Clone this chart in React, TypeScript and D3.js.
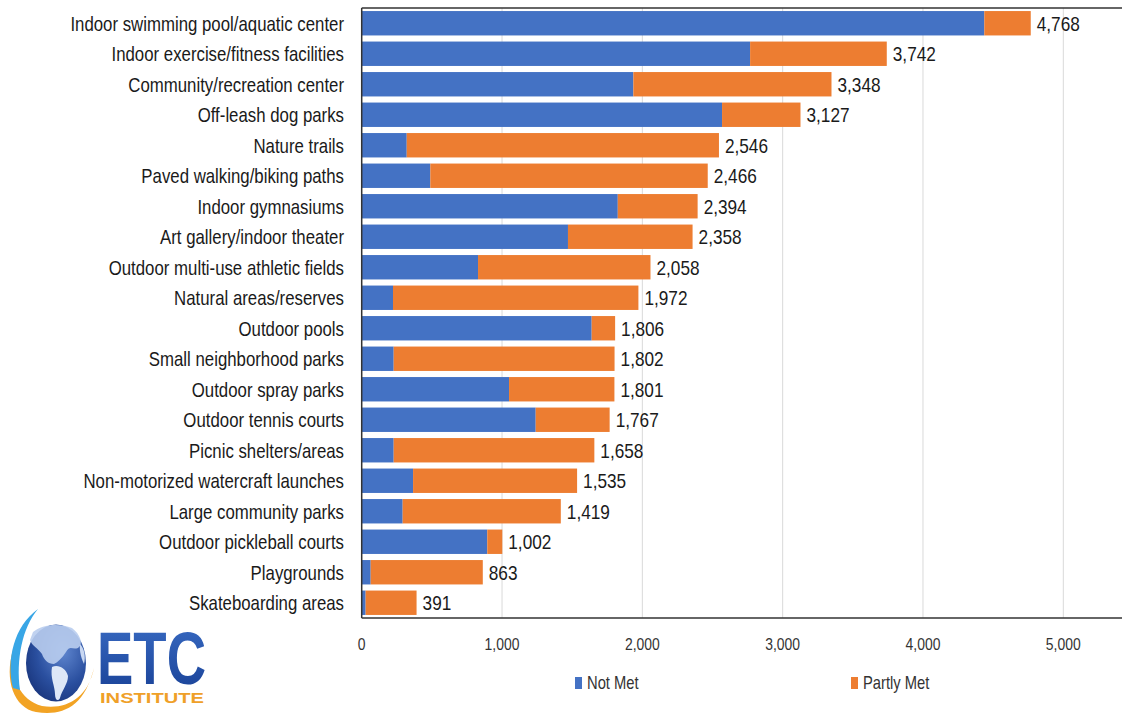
import React from "react";
import * as d3 from "d3";

const categories = [
  "Indoor swimming pool/aquatic center",
  "Indoor exercise/fitness facilities",
  "Community/recreation center",
  "Off-leash dog parks",
  "Nature trails",
  "Paved walking/biking paths",
  "Indoor gymnasiums",
  "Art gallery/indoor theater",
  "Outdoor multi-use athletic fields",
  "Natural areas/reserves",
  "Outdoor pools",
  "Small neighborhood parks",
  "Outdoor spray parks",
  "Outdoor tennis courts",
  "Picnic shelters/areas",
  "Non-motorized watercraft launches",
  "Large community parks",
  "Outdoor pickleball courts",
  "Playgrounds",
  "Skateboarding areas",
];
const notMet = [4437, 2768, 1936, 2568, 321, 489, 1825, 1470, 829, 223, 1639, 228, 1050, 1240, 228, 366, 292, 895, 64, 28];
const partlyMet = [331, 974, 1412, 559, 2225, 1977, 569, 888, 1229, 1749, 167, 1574, 751, 527, 1430, 1169, 1127, 107, 799, 363];
const xTicks = [0, 1000, 2000, 3000, 4000, 5000];
const seriesNames = ["Not Met", "Partly Met"];
const seriesColors = ["#4472C4", "#ED7D31"];

const FONT = "'Liberation Sans', Arial, sans-serif";
const SX = 0.82; // horizontal condensing to mimic a narrow face

function NText(props: { x: number; y: number; anchor?: string; size: number; fill?: string; children: any }) {
  const { x, y, anchor = "start", size, fill = "#1a1a1a", children } = props;
  return (
    <g transform={`translate(${x},${y}) scale(${SX},1)`}>
      <text x={0} y={0} dy="0.36em" textAnchor={anchor as any} fontFamily={FONT} fontSize={size} fill={fill}>
        {children}
      </text>
    </g>
  );
}

export default function App() {
  const W = 1122, H = 719;
  const plotLeft = 361.7, plotTop = 8, plotBottom = 618;
  const x = d3.scaleLinear().domain([0, 5000]).range([plotLeft, 1063.3]);
  const y = d3.scaleBand<string>().domain(categories).range([plotTop, plotBottom]).paddingInner(0.2).paddingOuter(0.1);
  const rows = categories.map((c, i) => ({ cat: c, "Not Met": notMet[i], "Partly Met": partlyMet[i] }));
  const stacked = d3.stack<any>().keys(seriesNames)(rows);
  const fmt = d3.format(",");

  return (
    <svg width={W} height={H} style={{ position: "absolute", left: 0, top: 0, background: "#fff" }}>
      <defs>
        <radialGradient id="globe" cx="0.62" cy="0.35" r="0.8">
          <stop offset="0" stopColor="#5f86cf" />
          <stop offset="0.55" stopColor="#2a4f9f" />
          <stop offset="1" stopColor="#152f74" />
        </radialGradient>
        <linearGradient id="etc" x1="0" y1="0" x2="0" y2="1">
          <stop offset="0" stopColor="#3a6cc4" />
          <stop offset="1" stopColor="#173f94" />
        </linearGradient>
      </defs>
      {/* gridlines */}
      {xTicks.filter((t) => t > 0).map((t) => (
        <line key={t} x1={x(t)} x2={x(t)} y1={plotTop} y2={plotBottom} stroke="#d9d9d9" strokeWidth={1} />
      ))}
      {/* bars */}
      {stacked.map((s, si) => (
        <g key={s.key} fill={seriesColors[si]}>
          {s.map((d, i) => (
            <rect key={i} x={x(d[0])} y={y(categories[i])} width={x(d[1]) - x(d[0])} height={y.bandwidth()} />
          ))}
        </g>
      ))}
      {/* axes lines */}
      <line x1={plotLeft} x2={W} y1={plotTop} y2={plotTop} stroke="#333" strokeWidth={1.5} />
      <line x1={plotLeft} x2={plotLeft} y1={plotTop} y2={plotBottom} stroke="#333" strokeWidth={1.5} />
      <line x1={plotLeft} x2={W} y1={plotBottom} y2={plotBottom} stroke="#333" strokeWidth={1.5} />
      {/* category labels */}
      {categories.map((c) => (
        <NText key={c} x={344} y={y(c)! + y.bandwidth() / 2} anchor="end" size={20.5}>
          {c}
        </NText>
      ))}
      {/* value labels */}
      {categories.map((c, i) => (
        <NText key={c} x={x(notMet[i] + partlyMet[i]) + 6} y={y(c)! + y.bandwidth() / 2} size={21}>
          {fmt(notMet[i] + partlyMet[i])}
        </NText>
      ))}
      {/* tick labels */}
      {xTicks.map((t) => (
        <NText key={t} x={x(t)} y={644} anchor="middle" size={17} fill="#333">
          {fmt(t)}
        </NText>
      ))}
      {/* legend */}
      {seriesNames.map((n, i) => {
        const lx = [575, 851][i];
        return (
          <g key={n}>
            <rect x={lx} y={677} width={7} height={12} fill={seriesColors[i]} />
            <NText x={lx + 12} y={683} size={18} fill="#333">
              {n}
            </NText>
          </g>
        );
      })}
      {/* logo */}
      <g>
        <path d="M 13 650 C 4 680, 14 708, 36 712 C 62 716, 84 708, 94 668 C 88 698, 66 710, 42 706 C 20 700, 10 678, 13 650 Z" fill="#f2a324" />
        <path d="M 13 688 C 6 660, 14 626, 38 609 C 22 628, 16 660, 20 690 Z" fill="#38a6e6" />
        <ellipse cx={56} cy={663} rx={32} ry={40} fill="#ffffff" />
        <ellipse cx={56} cy={663} rx={30} ry={38.5} fill="url(#globe)" />
        <path d="M 33 632 C 42 624, 60 623, 72 628 C 80 634, 84 644, 78 648 C 72 650, 70 645, 66 652 C 62 658, 58 662, 54 664 C 48 664, 44 660, 42 654 C 38 648, 32 646, 30 640 Z" fill="#b9cdee" opacity={0.9} />
        <path d="M 52 667 C 58 664, 66 668, 68 676 C 68 684, 62 690, 60 698 C 58 702, 55 700, 55 694 C 55 686, 50 678, 52 667 Z" fill="#dde7f7" />
        <path d="M 80 644 C 84 648, 86 656, 84 664 C 82 660, 79 652, 80 644 Z" fill="#c9d8f2" />
        <text x={97} y={684} fontFamily={FONT} fontWeight="bold" fontSize={74} fill="url(#etc)" textLength={109} lengthAdjust="spacingAndGlyphs">
          ETC
        </text>
        <text x={100} y={703} fontFamily={FONT} fontWeight="bold" fontSize={14} fill="#efa028" textLength={104} lengthAdjust="spacingAndGlyphs">
          INSTITUTE
        </text>
      </g>
    </svg>
  );
}
